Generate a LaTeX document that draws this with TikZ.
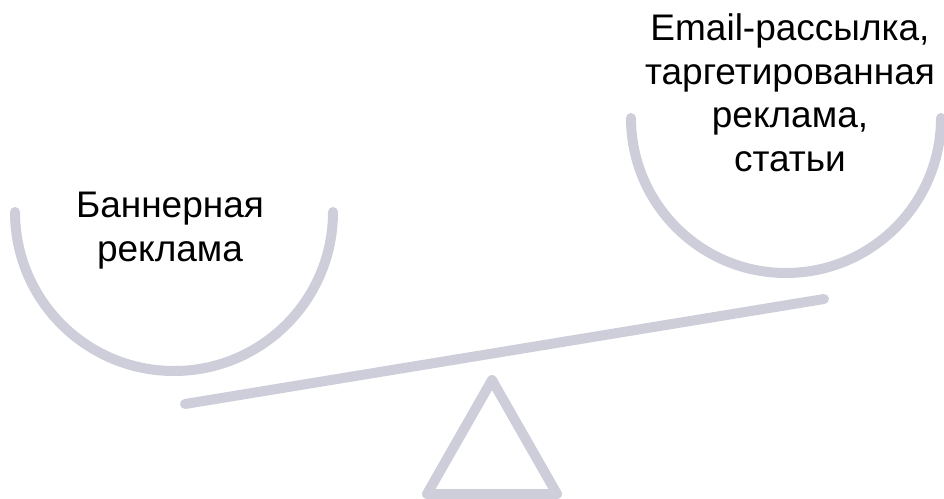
\documentclass[tikz,border=0pt]{standalone}
\usepackage{fontspec}
\setmainfont{Liberation Sans}
\definecolor{scalegray}{RGB}{206,206,218}
\begin{document}
\begin{tikzpicture}[x=1pt,y=-1pt,
  part/.style={draw=scalegray,line width=10pt,line cap=round,line join=round},
  lbl/.style={align=center,font=\fontsize{37}{43.5}\selectfont,text=black,inner sep=0pt}]
\useasboundingbox (0,0) rectangle (944,498);
\clip (0,0) rectangle (944,498);
% left pan
\draw[part] (15,212) arc[start angle=180,end angle=360,x radius=159,y radius=-159];
% right pan
\draw[part] (631,118) arc[start angle=180,end angle=360,x radius=155,y radius=-155];
% beam
\coordinate (bl) at (185,404);
\coordinate (br) at (824,299);
\draw[part] (bl) -- (br);
% fulcrum
\coordinate (ta) at (492,380);
\coordinate (tl) at (427,494);
\coordinate (tr) at (557,494);
\draw[part] (ta) -- (tl) -- (tr) -- cycle;
% labels
\node[lbl,anchor=base] (left) at (170,261) {Баннерная\\реклама};
\node[lbl,anchor=base] (right) at (790,171) {Email-рассылка,\\таргетированная\\реклама,\\статьи};
\end{tikzpicture}
\end{document}
